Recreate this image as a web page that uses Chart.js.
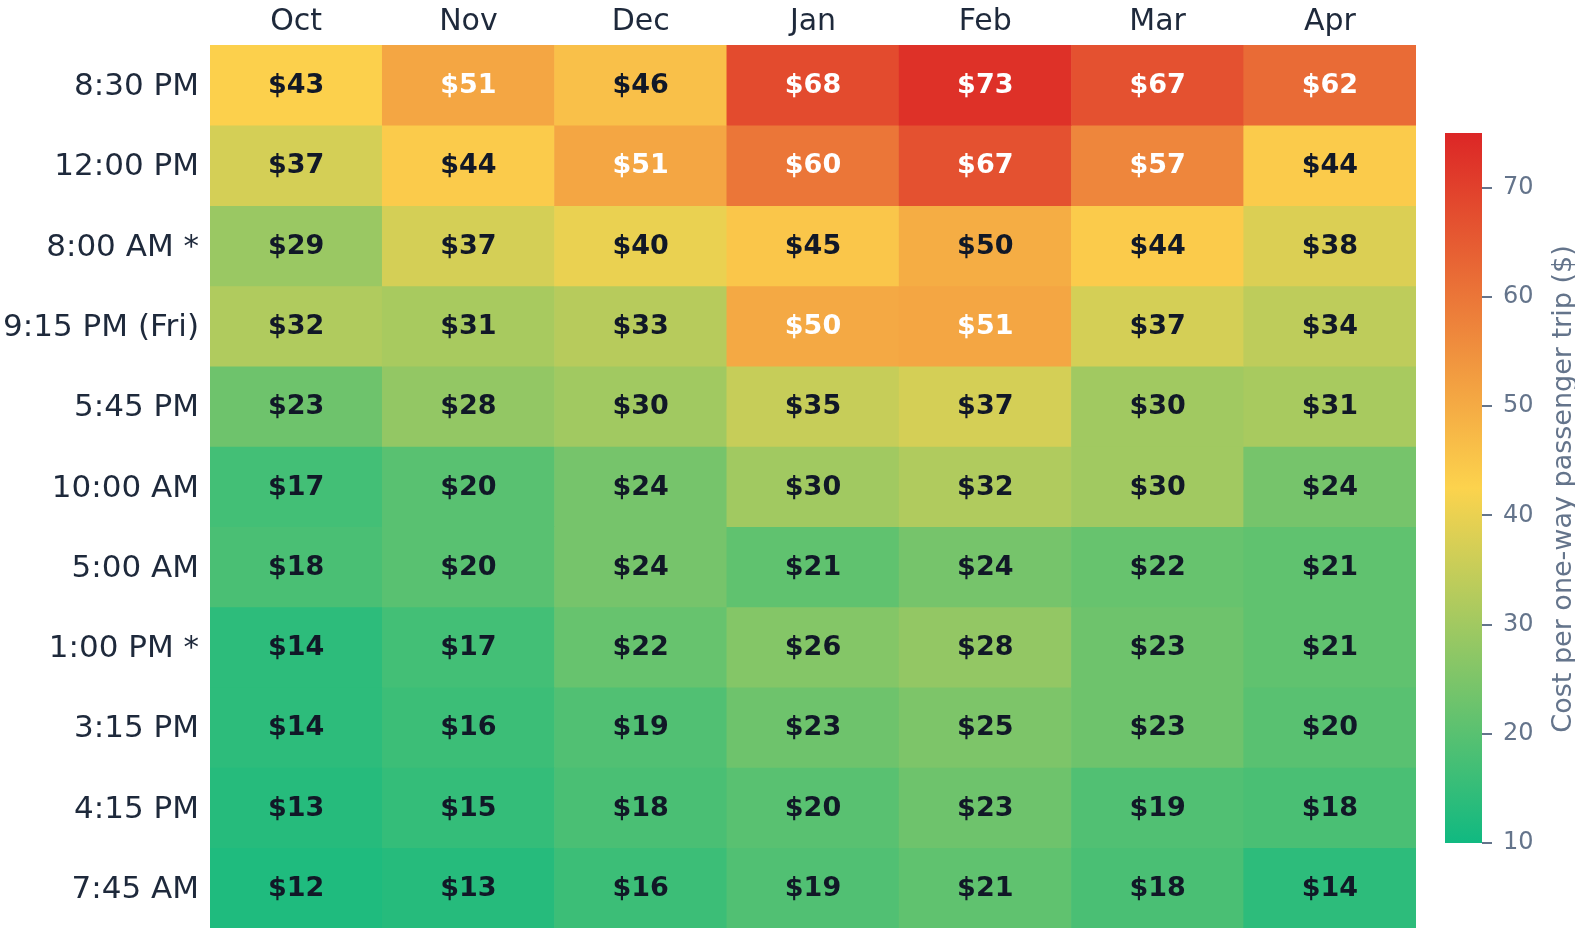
<!DOCTYPE html>
<html>
<head>
<meta charset="utf-8">
<script src="https://cdn.jsdelivr.net/npm/chart.js@4.4.1/dist/chart.umd.min.js"></script>
<style>
  html, body { margin: 0; padding: 0; background: #ffffff; }
  #wrap { position: relative; width: 1575px; height: 928px; overflow: hidden; }
  #heat { position: absolute; left: 0; top: 0; }
  #cbar { position: absolute; left: 1440px; top: 113px; }
</style>
</head>
<body>
<div id="wrap">
  <canvas id="heat" width="1575" height="928"></canvas>
  <canvas id="cbar" width="135" height="750"></canvas>
</div>
<script>
const months = ["Oct", "Nov", "Dec", "Jan", "Feb", "Mar", "Apr"];
const timeSlots = ["8:30 PM", "12:00 PM", "8:00 AM *", "9:15 PM (Fri)", "5:45 PM", "10:00 AM",
    "5:00 AM", "1:00 PM *", "3:15 PM", "4:15 PM", "7:45 AM"];

// cost per one-way passenger trip, one list per time slot (top to bottom)
const costs = [
    [43, 51, 46, 68, 73, 67, 62],
    [37, 44, 51, 60, 67, 57, 44],
    [29, 37, 40, 45, 49.7, 44, 38],
    [32, 31, 33, 50.3, 51, 37, 34],
    [23, 28, 30, 35, 37, 30, 31],
    [17, 20, 24, 30, 32, 30, 24],
    [18, 20, 24, 21, 24, 22, 21],
    [14, 17, 22, 26, 28, 23, 21],
    [14, 16, 19, 23, 25, 23, 20],
    [13, 15, 18, 20, 23, 19, 18],
    [12, 13, 16, 19, 21, 18, 14],
];

const cbarMin = 10;
const cbarMax = 75;
const cbarTicks = [10, 20, 30, 40, 50, 60, 70];

const scaleStops = [[0, [16, 185, 129]], [0.5, [252, 211, 77]], [1, [220, 38, 38]]];
const FONT = '"DejaVu Sans", sans-serif';
const LABEL_COLOR = "#1e293b";
const MUTED = "#64748b";

function colorFor(v) {
    let t = (v - cbarMin) / (cbarMax - cbarMin);
    t = Math.max(0, Math.min(1, t));
    for (let k = 1; k < scaleStops.length; k++) {
        const [t1, c1] = scaleStops[k];
        const [t0, c0] = scaleStops[k - 1];
        if (t <= t1) {
            const f = (t - t0) / (t1 - t0);
            const c = c0.map((x, n) => Math.round(x + (c1[n] - x) * f));
            return `rgb(${c[0]}, ${c[1]}, ${c[2]})`;
        }
    }
    return "rgb(220, 38, 38)";
}

// draws the $ value in the middle of each cell
const cellLabels = {
    id: "cellLabels",
    afterDatasetsDraw(chart) {
        const ctx = chart.ctx;
        ctx.save();
        ctx.font = "bold 27px " + FONT;
        ctx.textAlign = "center";
        ctx.textBaseline = "middle";
        chart.data.datasets.forEach((ds, i) => {
            chart.getDatasetMeta(i).data.forEach((bar, j) => {
                const v = costs[i][j];
                ctx.fillStyle = v >= 50 ? "#ffffff" : "#111827";
                ctx.fillText("$" + Math.round(v), bar.x, (bar.y + bar.base) / 2 + 1);
            });
        });
        ctx.restore();
    },
};

new Chart(document.querySelector("#heat").getContext("2d"), {
    type: "bar",
    data: {
        labels: months,
        datasets: timeSlots.map((slot, i) => ({
            label: slot,
            data: months.map(() => 1),
            backgroundColor: costs[i].map(colorFor),
            borderWidth: 0,
            barPercentage: 1,
            categoryPercentage: 1,
        })),
    },
    options: {
        responsive: false,
        animation: false,
        devicePixelRatio: 1,
        layout: { padding: { left: 0, right: 159, top: 0, bottom: 0 } },
        plugins: { legend: { display: false }, tooltip: { enabled: false } },
        scales: {
            x: {
                stacked: true,
                position: "top",
                grid: { display: false, drawTicks: false },
                border: { display: false },
                ticks: { font: { family: FONT, size: 30 }, color: LABEL_COLOR, padding: 5, autoSkip: false, maxRotation: 0 },
                afterFit: (scale) => { scale.height = 45; scale.paddingLeft = 0; scale.paddingRight = 0; },
            },
            y: {
                stacked: true,
                min: 0,
                max: timeSlots.length,
                reverse: true,
                grid: { display: false, drawTicks: false },
                border: { display: false },
                afterBuildTicks: (scale) => {
                    scale.ticks = timeSlots.map((s, i) => ({ value: i + 0.5 }));
                },
                ticks: {
                    font: { family: FONT, size: 31 },
                    color: LABEL_COLOR,
                    padding: 11,
                    labelOffset: 2,
                    autoSkip: false,
                    callback: (value, index) => timeSlots[index],
                },
                afterFit: (scale) => { scale.width = 210; scale.paddingTop = 0; scale.paddingBottom = 0; },
            },
        },
    },
    plugins: [cellLabels],
});

// vertical colour bar title, reading bottom to top
const cbarTitle = {
    id: "cbarTitle",
    afterDraw(chart) {
        const ctx = chart.ctx;
        const yMid = (chart.chartArea.top + chart.chartArea.bottom) / 2;
        ctx.save();
        ctx.translate(131, yMid + 1);
        ctx.rotate(-Math.PI / 2);
        ctx.font = "27px " + FONT;
        ctx.fillStyle = MUTED;
        ctx.textAlign = "center";
        ctx.textBaseline = "alphabetic";
        ctx.fillText("Cost per one-way passenger trip ($)", 0, 0);
        ctx.restore();
    },
};

new Chart(document.querySelector("#cbar").getContext("2d"), {
    type: "bar",
    data: {
        labels: [""],
        datasets: [{
            data: [[cbarMin, cbarMax]],
            barPercentage: 1,
            categoryPercentage: 1,
            borderWidth: 0,
            backgroundColor: (c) => {
                const chart = c.chart;
                if (!chart.chartArea) return "#ffffff";
                const ys = chart.scales.y;
                const g = chart.ctx.createLinearGradient(0, ys.getPixelForValue(cbarMin), 0, ys.getPixelForValue(cbarMax));
                scaleStops.forEach(([t, rgb]) => g.addColorStop(t, `rgb(${rgb.join(",")})`));
                return g;
            },
        }],
    },
    options: {
        responsive: false,
        animation: false,
        devicePixelRatio: 1,
        layout: { padding: { left: 5, right: 0, top: 20, bottom: 20 } },
        plugins: { legend: { display: false }, tooltip: { enabled: false } },
        scales: {
            x: { display: false },
            y: {
                position: "right",
                min: cbarMin,
                max: cbarMax,
                afterBuildTicks: (scale) => {
                    scale.ticks = cbarTicks.map((v) => ({ value: v }));
                },
                grid: { drawOnChartArea: false, drawTicks: true, tickLength: 10, color: MUTED, lineWidth: 2 },
                border: { display: false },
                ticks: { font: { family: FONT, size: 24 }, color: MUTED, padding: 11 },
                afterFit: (scale) => { scale.width = 93; scale.paddingTop = 0; scale.paddingBottom = 0; },
            },
        },
    },
    plugins: [cbarTitle],
});
</script>
</body>
</html>
